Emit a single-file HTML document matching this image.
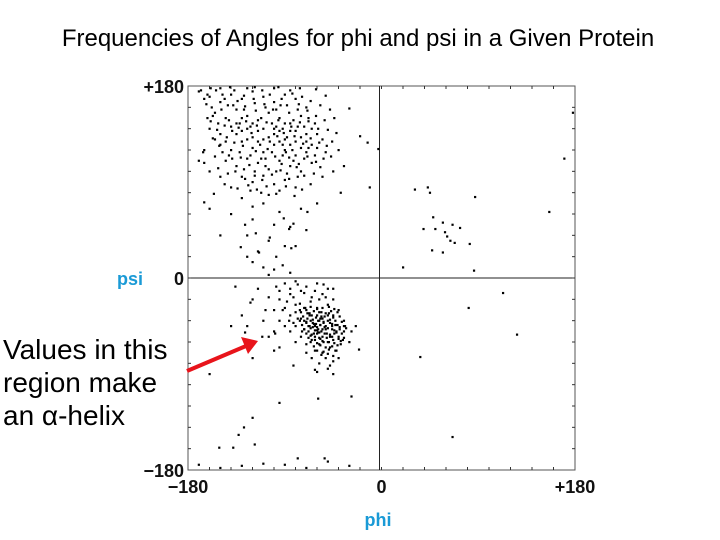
<!DOCTYPE html>
<html><head><meta charset="utf-8"><style>
html,body{margin:0;padding:0;background:#fff;}
svg{display:block;font-family:"Liberation Sans",Arial,sans-serif;}
</style></head><body>
<svg id="chart" width="720" height="540" viewBox="0 0 720 540">
<text x="358" y="46" font-size="24" text-anchor="middle" fill="#000">Frequencies of Angles for phi and psi in a Given Protein</text>
<g id="frame"></g>
<g id="ticks"></g>
<g id="labels"></g>
<g id="points"></g>
<text x="117" y="285" font-size="18" font-weight="bold" fill="#1a9ad6">psi</text>
<text x="378" y="526" font-size="18" font-weight="bold" fill="#1a9ad6" text-anchor="middle">phi</text>
<g font-size="28" fill="#000">
<text x="3" y="359">Values in this</text>
<text x="3" y="392">region make</text>
<text x="3" y="425">an α-helix</text>
</g>
<g>
<line x1="187" y1="371" x2="246" y2="346" stroke="#e8141b" stroke-width="4"/>
<polygon points="258,341 241,337 248,354" fill="#e8141b"/>
</g>
</svg>
<script>
const xTicks = [-180, 0, 180];
const xTickLabels = ["\u2212180", "0", "+180"];
const yTicks = [180, 0, -180];
const yTickLabels = ["+180", "0", "\u2212180"];
const phiValues = [
-160,-150,-140,-130,-120,-110,-100,-90,-80,-70,-155,-145,-135,-125,-115,-105,-95,-85,-75,-65,-160,-150,-140,-130,-120,-110,-100,-90,-80,-70,-60,-150,-140,-130,-120,-110,-100,-90,-80,-70,-60,-145,-135,-125,-115,-105,-95,-85,-75,-65,-130,-120,-110,-100,-90,-80,
-165,-158,-148,-138,-128,-118,-108,-98,-88,-78,-68,-162,-152,-142,-132,-122,-112,-102,-92,-82,-72,-62,-155,-145,-135,-125,-115,-105,-95,-85,-75,-65,-55,-142,-132,-122,-112,-102,-92,-82,-72,-62,-52,-128,-118,-108,-98,-88,-78,-122,-112,-105,-95,-165,-170,-160,-150,-140,-55,-45,-40,-35,-170,-150,-125,-100,-85,
-100,-95,-90,-85,-80,-78,-75,-92,-88,-83,-70,-68,-96,-104,-110,-115,-120,-125,-130,-135,
-165,-156,-165,-11,-13,-20,-3,-38,-30,
-130,-110,-95,-120,-100,-85,-125,-105,-90,-115,-98,-110,-100,-92,-85,-105,-80,-70,-60,-140,-150,-160,-75,-125,-120,
-127,-117,-91,-82,-86,-84,-131,-114,-104,-69,-120,
-90,-80,-70,-60,-50,-85,-75,-65,-55,-45,-95,-100,-90,-80,-70,-60,-50,-40,-85,-75,-65,-55,-45,-35,-80,-70,-62,-58,-52,-48,-42,-68,-60,-55,-50,-45,-65,-58,-40,-35,-75,-70,-62,-55,-48,-42,-38,-52,-45,-58,-40,-30,-28,
-72,-66,-64,-61,-59,-57,-56,-54,-53,-51,-63,-67,-69,-60,-56,-50,-46,-44,-62,-66,-72,-74,-78,-82,-58,-54,-48,-46,-64,-60,-58,-62,-57,-53,-49,-67,-71,-76,-43,-39,-36,-34,
-70,-65,-50,-45,-60,-100,-110,-120,-115,-105,-125,-80,-85,-90,-95,-130,-95,-120,-140,
-160,-120,-128,-133,-138,-151,-118,-95,-59,-28,-78,-53,-82,-62,-48,-127,-100,-111,-24,-21,-136,-122,-108,-99,
-170,-150,-130,-110,-90,-70,-50,-30,
31,43,45,87,48,39,50,57,66,73,59,61,64,68,82,47,57,20,86,156,170,178,
113,81,126,36,66
];
const psiValues = [
170,165,172,168,175,170,165,172,168,160,155,150,158,152,148,155,150,145,152,140,140,135,142,138,132,140,135,130,138,128,135,125,120,128,122,118,125,120,115,118,122,110,105,112,108,102,110,105,100,108,95,90,96,88,92,85,
168,160,172,162,158,164,160,158,162,158,150,150,145,148,145,142,150,145,140,148,142,145,130,128,135,130,128,132,128,125,132,125,130,115,118,115,112,118,115,110,112,115,118,102,100,105,100,98,95,82,80,78,82,120,110,100,95,85,95,100,120,105,175,178,178,178,176,
140,138,145,138,128,142,122,125,132,120,135,122,148,128,130,138,145,140,150,145,
108,79,71,85,127,133,121,80,159,
75,70,62,55,50,48,40,35,30,25,20,10,8,12,5,3,30,45,70,60,40,65,65,20,15,
50,42,56,51,46,28,29,24,38,62,67,
-5,-3,-8,-5,-10,-15,-12,-18,-15,-20,-20,-30,-28,-25,-30,-28,-25,-30,-35,-38,-35,-38,-35,-40,-45,-42,-45,-40,-48,-42,-50,-50,-52,-55,-60,-58,-58,-62,-55,-50,-55,-62,-68,-70,-65,-68,-62,-75,-78,-80,-75,-60,-50,
-48,-40,-46,-43,-48,-44,-50,-42,-46,-52,-52,-45,-38,-35,-32,-40,-45,-52,-58,-54,-40,-50,-38,-42,-56,-60,-55,-48,-42,-46,-51,-49,-38,-36,-33,-33,-28,-30,-44,-46,-58,-45,
-70,-75,-85,-90,-88,-50,-40,-20,-10,-55,-45,-60,-50,-45,-40,-35,-65,-75,-45,
-90,-131,-140,-147,-159,-159,-156,-117,-113,-111,-169,-169,-82,-86,-82,-51,-68,-55,-45,-67,-8,-23,-30,-52,
-175,-178,-176,-174,-175,-178,-172,-176,
83,85,80,76,57,46,46,52,50,47,43,39,35,33,32,26,24,10,7,62,112,155,
-14,-28,-53,-74,-149
];
const betaPhi = [
-168,-162,-154,-146,-137,-128,-119,-111,-104,-93,-83,-74,-66,-57,-48,
-163,-157,-149,-143,-134,-127,-117,-109,-101,-94,-86,-77,-69,-61,-53,-44,
-159,-153,-146,-139,-133,-126,-116,-107,-98,-91,-84,-76,-68,-59,-50,-42,
-157,-151,-144,-137,-129,-121,-113,-106,-97,-89,-81,-73,-66,-58,-51,-46,
-166,-155,-148,-139,-131,-123,-117,-108,-99,-93,-86,-77,-69,-61,-54,-47,
-152,-143,-136,-127,-118,-111,-102,-94,-86,-79,-72,-63,-57,
-146,-134,-124,-116,-107,-98,-89,-81,-74,-66,
-159,-141,-118,-96,-76,-61,-52
];
const betaPsi = [
176,172,176,168,176,171,168,176,172,168,173,170,166,162,158,
163,152,158,162,166,161,157,163,158,162,155,163,157,152,148,150,
147,139,143,138,141,147,143,146,142,136,142,146,147,140,139,136,
131,124,132,127,124,136,125,121,133,118,133,126,131,127,124,128,
118,114,118,112,113,106,119,112,114,107,113,107,114,109,112,114,
103,98,100,93,96,92,97,101,93,104,96,98,104,
88,84,87,83,86,79,86,77,83,88,
178,179,179,179,178,177,171
];
const alphaPhi = [
-72,-66,-60,-55,-49,-44,
-75,-69,-63,-58,-52,-47,-41,
-73,-67,-61,-56,-50,-45,-39,
-76,-70,-64,-59,-54,-48,-43,-37,
-74,-68,-63,-57,-52,-46,-41,-35,
-72,-66,-60,-55,-50,-44,-39,-33,
-70,-65,-59,-53,-48,-42,-37,
-68,-62,-57,-51,-46,-40,-35,
-66,-60,-55,-49,-44,-38,
-63,-57,-52,-46,-41,
-60,-54,-49,-43,
-56,-50,-45,
-85,-78,-72,-95,-88,-82,-66,-58,-52,-76,-92,-86,-80,-105,-98,-62,-54,-45
];
const alphaPsi = [
-28,-27,-29,-28,-27,-29,
-32,-33,-31,-32,-33,-31,-32,
-36,-35,-37,-36,-35,-37,-36,
-40,-41,-39,-40,-41,-39,-40,-41,
-44,-45,-43,-44,-45,-43,-44,-45,
-48,-47,-49,-48,-47,-49,-48,-47,
-52,-53,-51,-52,-53,-51,-52,
-56,-55,-57,-56,-55,-57,-56,
-60,-61,-59,-60,-61,-59,
-64,-63,-65,-64,-63,
-68,-69,-67,-68,
-72,-71,-73,
-10,-6,-14,-12,-22,-18,-22,-20,-18,-24,-30,-40,-32,-18,-8,-12,-6,-10
];
const NS='http://www.w3.org/2000/svg';
const L=188,R=575,T=86,B=470;
function xScale(v){return L+(v+180)/360*(R-L);}
function yScale(v){return T+(180-v)/360*(B-T);}
function mk(tag,attrs,parent){const e=document.createElementNS(NS,tag);for(const k in attrs)e.setAttribute(k,attrs[k]);parent.appendChild(e);return e;}
const frame=document.getElementById('frame');
const rect=mk('rect',{x:L,y:T,width:R-L,height:B-T,fill:'none',stroke:'#555','stroke-width':1},frame);


const vz=mk('line',{x1:xScale(0)-2,x2:xScale(0)-2,y1:T,y2:B,stroke:'#222','stroke-width':1},frame);


const hz=mk('line',{x1:L,x2:R,y1:yScale(0),y2:yScale(0),stroke:'#222','stroke-width':1},frame);


const tg=document.getElementById('ticks');
for(let d=-160;d<=160;d+=20){
  const x=xScale(d),y=yScale(d);
  const t1=mk('line',{x1:x,x2:x,y1:B,y2:B-3,stroke:'#333','stroke-width':1},tg);
  
  
  const t2=mk('line',{x1:x,x2:x,y1:T,y2:T+3,stroke:'#333','stroke-width':1},tg);
  
  
  const t3=mk('line',{x1:L,x2:L+3,y1:y,y2:y,stroke:'#333','stroke-width':1},tg);
  
  
  const t4=mk('line',{x1:R,x2:R-3,y1:y,y2:y,stroke:'#333','stroke-width':1},tg);
  
  
}
const lg=document.getElementById('labels');
xTicks.forEach((v,i)=>{
  const t=mk('text',{x:xScale(v),y:B+23,'font-size':18,'font-weight':'bold','text-anchor':'middle',fill:'#111'},lg);
  t.textContent=xTickLabels[i];
  
  
});
yTicks.forEach((v,i)=>{
  const t=mk('text',{x:L-4,y:yScale(v)+7,'font-size':18,'font-weight':'bold','text-anchor':'end',fill:'#111'},lg);
  t.textContent=yTickLabels[i];
  
  
});
const pg=document.getElementById('points');
function drawSet(phis,psis){
  const n=Math.min(phis.length,psis.length);
  for(let i=0;i<n;i++){
    const p=mk('rect',{x:xScale(phis[i])-1,y:yScale(psis[i])-1,width:2.2,height:2.2,fill:'#000'},pg);
    
    
  }
}
drawSet(phiValues,psiValues);
drawSet(betaPhi,betaPsi);
drawSet(alphaPhi,alphaPsi);
</script>
</body></html>
